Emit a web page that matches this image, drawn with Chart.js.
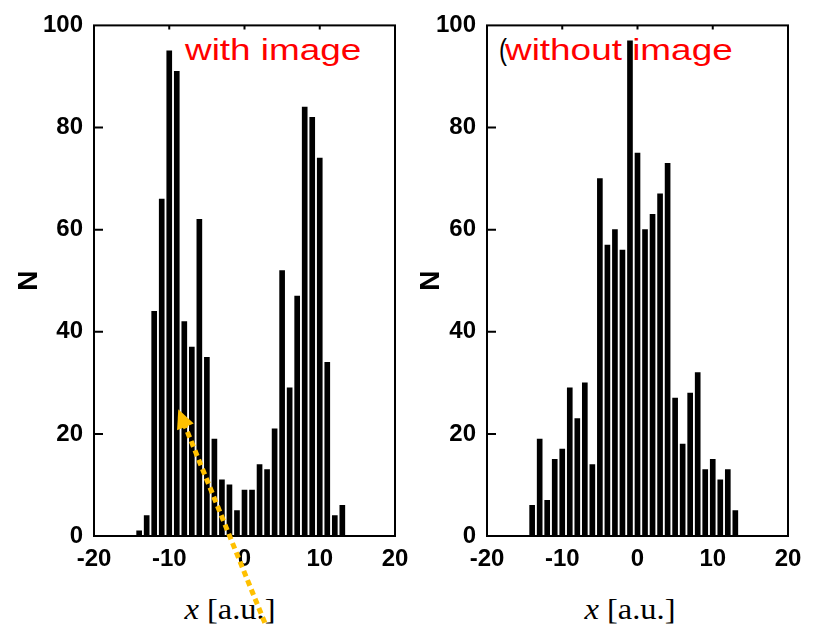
<!DOCTYPE html>
<html><head><meta charset="utf-8">
<script src="https://cdn.jsdelivr.net/npm/chart.js@4.4.1/dist/chart.umd.min.js"></script>
<style>
html,body{margin:0;padding:0;background:#fff;}
#wrap{position:relative;width:815px;height:624px;overflow:hidden;background:#fff;}
canvas{position:absolute;top:0;}
.lbl{position:absolute;white-space:nowrap;font-family:"Liberation Sans",Arial,sans-serif;font-size:30px;line-height:30px;color:#ff0000;transform-origin:0 0;transform:scaleX(1.23);}
.xt{position:absolute;width:160px;text-align:center;white-space:nowrap;font-family:"Liberation Serif","Times New Roman",serif;font-size:29px;line-height:29px;color:#000;transform:scaleX(1.12);}
</style></head>
<body><div id="wrap">
<div class="lbl" style="left:185px;top:35px">with image</div>
<div class="lbl" style="left:499px;top:35px;color:#000;transform:scaleX(0.8)">(</div>
<div class="lbl" style="left:505px;top:35px">without image</div>
<div class="xt" style="left:150px;top:595px"><i>x</i> [a.u.]</div>
<div class="xt" style="left:550px;top:595px"><i>x</i> [a.u.]</div>
<canvas id="c1" width="420" height="624" style="left:0"></canvas>
<canvas id="c2" width="410" height="624" style="left:405px"></canvas>
</div>
<script>
// ---- data ----
const X_BINS = [-14,-13,-12,-11,-10,-9,-8,-7,-6,-5,-4,-3,-2,-1,0,1,2,3,4,5,6,7,8,9,10,11,12,13];
const WITH_IMAGE = [1,4,44,66,95,91,42,37,62,35,19,11,10,5,9,9,14,13,21,52,29,47,84,82,74,34,4,6];
const WITHOUT_IMAGE = [6,19,7,15,17,29,23,30,14,70,57,60,56,97,75,60,63,67,73,27,18,28,32,13,15,11,13,5];
const X_TICKS = [-20,-10,0,10,20];
const Y_TICKS = [0,20,40,60,80,100];
const Y_TITLE = 'N';

const framePlugin = {
  id: 'frame',
  afterDatasetsDraw(chart, args, opts) {
    const {ctx, chartArea: a, scales: {x, y}} = chart;
    ctx.save();
    ctx.strokeStyle = '#000';
    ctx.lineWidth = 2;
    ctx.strokeRect(a.left, a.top, a.right - a.left, a.bottom - a.top);
    ctx.beginPath();
    Y_TICKS.slice(1, -1).forEach(v => {
      const py = y.getPixelForValue(v);
      ctx.moveTo(a.left, py); ctx.lineTo(a.left + 9, py);
    });
    X_TICKS.slice(1, -1).forEach(v => {
      const px = x.getPixelForValue(v);
      ctx.moveTo(px, a.top); ctx.lineTo(px, a.top + 4);
      ctx.moveTo(px, a.bottom); ctx.lineTo(px, a.bottom - 4);
    });
    ctx.stroke();
    if (opts && opts.arrow) {
      const ar = opts.arrow;
      const x0 = x.getPixelForValue(ar.from[0]), y0 = y.getPixelForValue(ar.from[1]);
      const x1 = x.getPixelForValue(ar.to[0]), y1 = y.getPixelForValue(ar.to[1]);
      const dx = x1 - x0, dy = y1 - y0, L = Math.hypot(dx, dy);
      const ux = dx / L, uy = dy / L;
      const hl = 19, hw = 9;
      const bx = x1 - ux * hl, by = y1 - uy * hl;
      ctx.strokeStyle = '#FFC000';
      ctx.fillStyle = '#FFC000';
      ctx.lineWidth = 5;
      ctx.setLineDash([6, 4]);
      ctx.lineCap = 'butt';
      ctx.beginPath();
      ctx.moveTo(x0, y0); ctx.lineTo(bx + ux * 2, by + uy * 2);
      ctx.stroke();
      ctx.setLineDash([]);
      ctx.beginPath();
      ctx.moveTo(x1, y1);
      ctx.lineTo(bx - uy * hw, by + ux * hw);
      ctx.lineTo(bx + uy * hw, by - ux * hw);
      ctx.closePath();
      ctx.fill();
    }
    ctx.restore();
  }
};

function makeChart(id, values, yWidth, padRight, titlePad, arrow) {
  const pts = X_BINS.map((b, i) => ({x: b, y: values[i]}));
  return new Chart(document.getElementById(id), {
    type: 'bar',
    data: {datasets: [{data: pts, backgroundColor: '#000', borderWidth: 0, barThickness: 5}]},
    options: {
      responsive: false,
      devicePixelRatio: 1,
      animation: false,
      layout: {padding: {left: 0, right: padRight, top: 20, bottom: 0}},
      plugins: {legend: {display: false}, tooltip: {enabled: false}, frame: {arrow: arrow}},
      scales: {
        x: {
          type: 'linear', min: -20, max: 20, offset: false,
          grid: {display: false, drawTicks: false, offset: false},
          border: {display: false},
          ticks: {stepSize: 10, padding: 9, color: '#000', font: {family: '"Liberation Sans", Arial, sans-serif', size: 24, weight: 'bold'}},
          afterBuildTicks: s => { s.ticks = X_TICKS.map(v => ({value: v})); },
          afterFit: s => { s.height = 88; }
        },
        y: {
          type: 'linear', min: 0, max: 100,
          grid: {display: false, drawTicks: false},
          border: {display: false},
          ticks: {stepSize: 20, padding: 11, color: '#000', font: {family: '"Liberation Sans", Arial, sans-serif', size: 24, weight: 'bold'}},
          afterBuildTicks: s => { s.ticks = Y_TICKS.map(v => ({value: v})); },
          title: {display: true, text: Y_TITLE, color: '#000', padding: {top: titlePad, bottom: 0}, font: {family: '"Liberation Sans", Arial, sans-serif', size: 28, weight: 'bold'}},
          afterFit: s => { s.width = yWidth; }
        }
      }
    },
    plugins: [framePlugin]
  });
}

makeChart('c1', WITH_IMAGE, 94, 25, 12, {from: [2.7, -17], to: [-8.8, 24.8]});
makeChart('c2', WITHOUT_IMAGE, 82, 27, 9, null);
</script>
</body></html>
